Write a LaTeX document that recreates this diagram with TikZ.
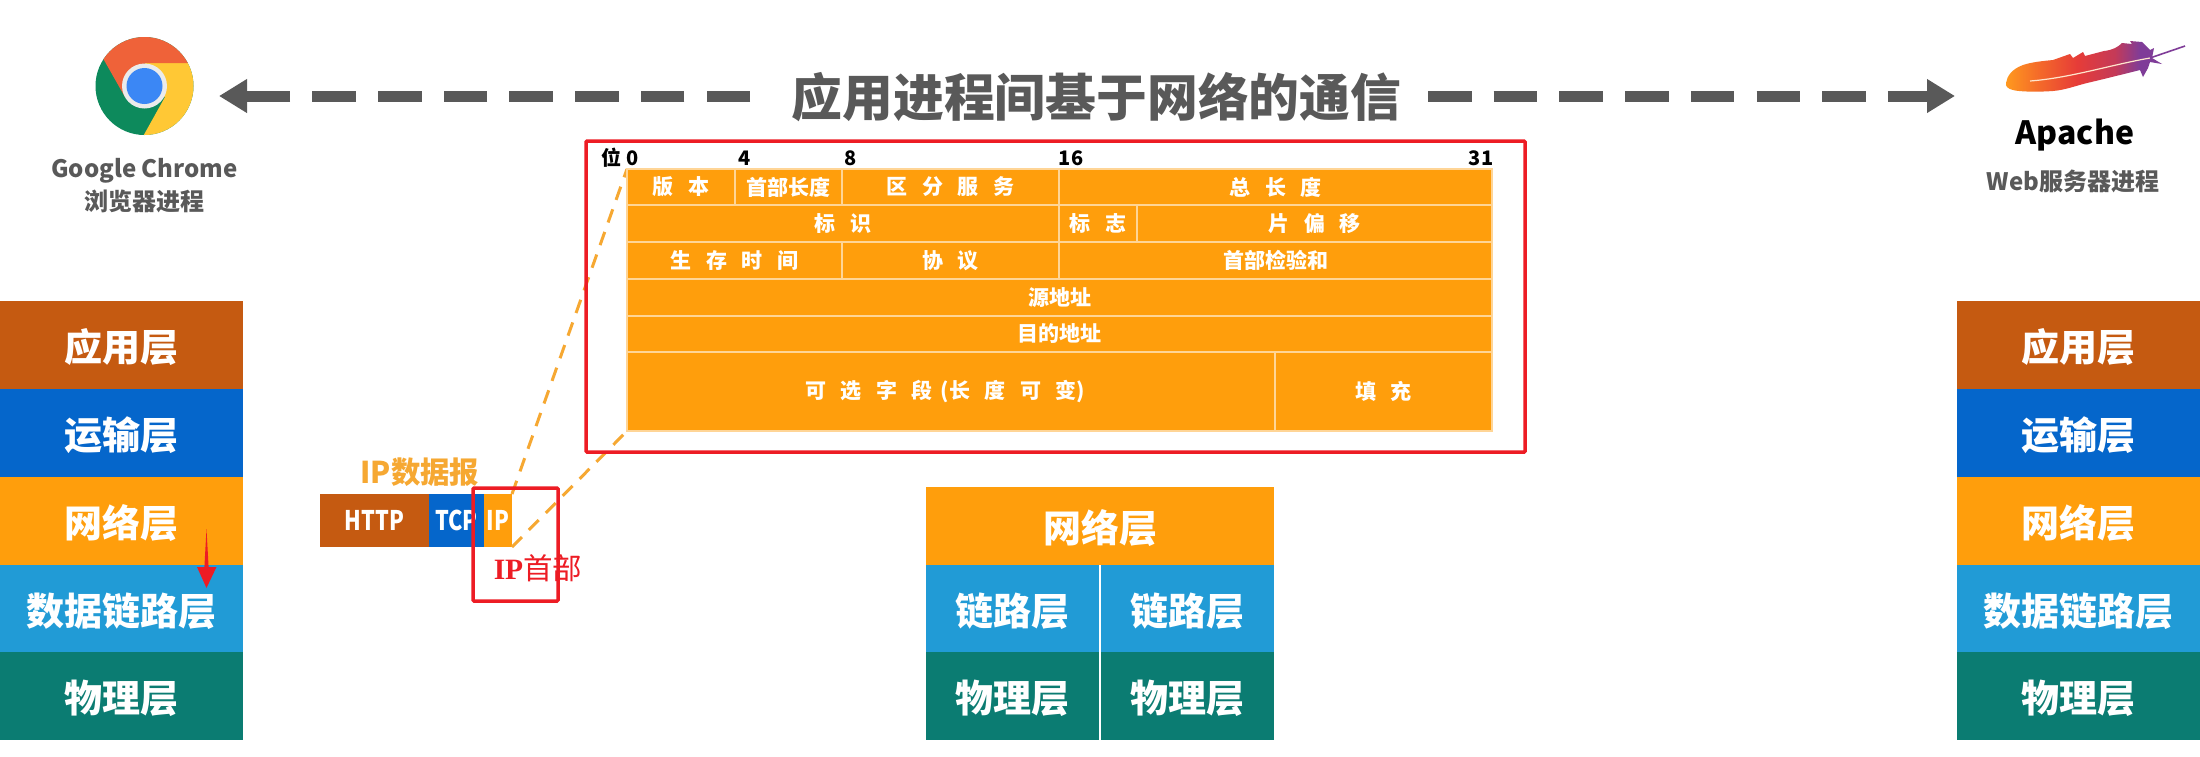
\documentclass[tikz,border=0pt]{standalone}
\usepackage{fontspec}
\usepackage{graphicx}
\usetikzlibrary{arrows.meta}
\setmainfont{Noto Sans CJK SC}
\newfontfamily\serifl{Liberation Serif}
\definecolor{cApp}{HTML}{C55A11}
\definecolor{cTrans}{HTML}{0566CB}
\definecolor{cNet}{HTML}{FF9E0C}
\definecolor{cLink}{HTML}{219BD6}
\definecolor{cPhy}{HTML}{0B7C72}
\definecolor{cGray}{HTML}{595959}
\definecolor{cRed}{HTML}{ED1C24}
\definecolor{cCream}{HTML}{FFD596}
\definecolor{cDash}{HTML}{F6A832}
\definecolor{fA}{HTML}{FF9A1E}
\definecolor{fB}{HTML}{F4692A}
\definecolor{fC}{HTML}{E63C38}
\definecolor{fD}{HTML}{C43A58}
\definecolor{fE}{HTML}{7F3C98}
\pgfdeclarehorizontalshading{feathershade}{100bp}{
  color(0bp)=(fA);
  color(25bp)=(fA);
  color(36bp)=(fB);
  color(48bp)=(fC);
  color(60bp)=(fD);
  color(68bp)=(fE);
  color(100bp)=(fE)}
\newcommand{\fsz}[1]{\fontsize{#1}{#1}\selectfont}
\newcommand{\gp}{\hspace{14.5pt}}
\tikzset{
  x=1pt,y=-1pt,
  layer/.style={inner sep=0pt,outer sep=0pt,text=white,font=\fsz{27}\bfseries,align=center},
  stack/.style={layer,font=\fsz{38}\bfseries,text height=37pt,text depth=4pt},
  cell/.style={inner sep=0pt,outer sep=0pt,fill=cNet,draw=cCream,line width=1.5pt,text=white,font=\fsz{21}\bfseries,align=center},
  bit/.style={inner sep=0pt,text=black,font=\fsz{20}\bfseries},
  redbox/.style={draw=cRed,line width=3.5pt,rounded corners=1pt},
  orangedash/.style={draw=cDash,line width=3pt,dash pattern=on 14pt off 10pt},
  bigarrow/.style={draw=cGray,line width=11pt,dash pattern=on 43.5pt off 22.2pt,-{Triangle[length=28pt,width=32pt,fill=cGray]}},
  capt/.style={inner sep=0pt,text=cGray,font=\fsz{24}\bfseries},
}
\begin{document}
\begin{tikzpicture}
\useasboundingbox (0,0) rectangle (2200,756);
\fill[white] (0,0) rectangle (2200,756);

% title and long arrows
\node[inner sep=0pt,text=cGray,font=\fsz{50.8}\bfseries] (title) at (1096.5,97) {应用进程间基于网络的通信};
\coordinate (lstart) at (750,96);
\coordinate (ltip) at (219,96);
\coordinate (rstart) at (1428,96);
\coordinate (rtip) at (1955,96);
\draw[bigarrow] (lstart) -- (ltip);
\draw[bigarrow] (rstart) -- (rtip);

% Chrome logo
\begin{scope}
\clip (144.5,86) circle (49);
\fill[fill={rgb,255:red,13;green,138;blue,92}] (90,30) rectangle (200,140);
\fill[fill={rgb,255:red,255;green,200;blue,53}] (144.5,63) -- (200,63) -- (200,140) -- (141,140) -- (165,97) -- (144.5,86) -- cycle;
\fill[fill={rgb,255:red,239;green,98;blue,57}] (125,97) -- (100,53) -- (100,20) -- (200,20) -- (200,63) -- (144.5,63) -- (144.5,86) -- cycle;
\end{scope}
\fill[white!92!black] (144.5,86) circle (22.5);
\fill[fill={rgb,255:red,59;green,135;blue,245}] (144.5,86) circle (18);
\node[capt] (chrome) at (144.5,171) {Google Chrome};
\node[capt] (chromep) at (144.5,201) {浏览器进程};

% Apache feather
\shade[shading=feathershade]
  (2006,83) .. controls (2007,76) and (2012,69) .. (2023,65)
  .. controls (2032,62) and (2043,61) .. (2053,60)
  -- (2070,54) -- (2073,58) -- (2083,52) -- (2085,56) -- (2104,51)
  .. controls (2113,50) and (2118,47) .. (2122,43)
  -- (2132,44) -- (2130,41) -- (2142,42) -- (2150,50) -- (2154,48) -- (2152,58) -- (2162,64) -- (2150,62) -- (2148,68) -- (2143,77) -- (2140,70)
  .. controls (2120,75) and (2100,80) .. (2087,83)
  .. controls (2075,86) and (2065,90) .. (2053,91)
  .. controls (2040,92) and (2020,92) .. (2013,90)
  .. controls (2008,89) and (2005,86) .. (2006,83) -- cycle;
\draw[white!80!orange,line width=1.2pt] (2030,81) .. controls (2070,78) and (2110,65) .. (2150,58);
\draw[fE,line width=1.6pt] (2150,58) -- (2185,46);
\node[inner sep=0pt,text=black,font=\fsz{32}\bfseries] (apache) at (2075,135) {Apache};
\node[capt] (apachep) at (2073,181) {Web服务器进程};

% left stack
\node[stack,fill=cApp,minimum width=243pt,minimum height=88pt] (la) at (121.5,345) {应用层};
\node[stack,fill=cTrans,minimum width=243pt,minimum height=88pt] (lt) at (121.5,433) {运输层};
\node[stack,fill=cNet,minimum width=243pt,minimum height=88pt] (ln) at (121.5,521) {网络层};
\node[stack,fill=cLink,minimum width=243pt,minimum height=87pt] (ld) at (121.5,608.5) {数据链路层};
\node[stack,fill=cPhy,minimum width=243pt,minimum height=88pt] (lp) at (121.5,696) {物理层};
\fill[cRed] (206.5,529) -- (208.6,567) -- (216.5,567) -- (206.5,588) -- (197,567) -- (204.4,567) -- cycle;

% right stack
\node[stack,fill=cApp,minimum width=243pt,minimum height=88pt] (ra) at (2078.5,345) {应用层};
\node[stack,fill=cTrans,minimum width=243pt,minimum height=88pt] (rt) at (2078.5,433) {运输层};
\node[stack,fill=cNet,minimum width=243pt,minimum height=88pt] (rn) at (2078.5,521) {网络层};
\node[stack,fill=cLink,minimum width=243pt,minimum height=87pt] (rd) at (2078.5,608.5) {数据链路层};
\node[stack,fill=cPhy,minimum width=243pt,minimum height=88pt] (rp) at (2078.5,696) {物理层};

% middle stack
\node[stack,fill=cNet,minimum width=348pt,minimum height=78pt] (mn) at (1100,526) {网络层};
\node[stack,fill=cLink,minimum width=173pt,minimum height=87pt] (md1) at (1012.5,608.5) {链路层};
\node[stack,fill=cLink,minimum width=173pt,minimum height=87pt] (md2) at (1187.5,608.5) {链路层};
\node[stack,fill=cPhy,minimum width=173pt,minimum height=88pt] (mp1) at (1012.5,696) {物理层};
\node[stack,fill=cPhy,minimum width=173pt,minimum height=88pt] (mp2) at (1187.5,696) {物理层};

% datagram
\node[inner sep=0pt,text=cDash,font=\fsz{30}\bfseries] (dglabel) at (420,472) {\scalebox{.98}[1]{IP数据报}};
\node[layer,fill=cApp,minimum width=109pt,minimum height=53pt] (dh) at (374.5,520.5) {\scalebox{.8}[1]{HTTP}};
\node[layer,fill=cTrans,minimum width=55pt,minimum height=53pt] (dt) at (456.5,520.5) {\scalebox{.8}[1]{TCP}};
\node[layer,fill=cNet,minimum width=28pt,minimum height=53pt] (di) at (498,520.5) {\scalebox{.8}[1]{IP}};
\coordinate (zt) at (627,169);
\coordinate (zb) at (627,431);
\draw[orangedash] (di.north east) -- (zt);
\draw[orangedash] (di.south east) -- (zb);

% IP header table
\node[bit] (bw) at (611,158) {位};
\node[bit] (b0) at (633,158) {0};
\node[bit] (b4) at (745,158) {4};
\node[bit] (b8) at (851,158) {8};
\node[bit] (b16) at (1071,158) {16};
\node[bit] (b31) at (1481,158) {31};

\node[cell,minimum width=108pt,minimum height=36pt] (c1) at (681,187) {版\gp 本};
\node[cell,minimum width=107pt,minimum height=36pt] (c2) at (788.5,187) {首部长度};
\node[cell,minimum width=217pt,minimum height=36pt] (c3) at (950.5,187) {区\gp 分\gp 服\gp 务};
\node[cell,minimum width=433pt,minimum height=36pt] (c4) at (1275.5,187) {总\gp 长\gp 度};
\node[cell,minimum width=432pt,minimum height=37pt] (c5) at (843,223.5) {标\gp 识};
\node[cell,minimum width=78pt,minimum height=37pt] (c6) at (1098,223.5) {标\gp 志};
\node[cell,minimum width=355pt,minimum height=37pt] (c7) at (1314.5,223.5) {片\gp 偏\gp 移};
\node[cell,minimum width=215pt,minimum height=37pt] (c8) at (734.5,260.5) {生\gp 存\gp 时\gp 间};
\node[cell,minimum width=217pt,minimum height=37pt] (c9) at (950.5,260.5) {协\gp 议};
\node[cell,minimum width=433pt,minimum height=37pt] (c10) at (1275.5,260.5) {首部检验和};
\node[cell,minimum width=865pt,minimum height=37pt] (c11) at (1059.5,297.5) {源地址};
\node[cell,minimum width=865pt,minimum height=36pt] (c12) at (1059.5,334) {目的地址};
\node[cell,minimum width=648pt,minimum height=79pt] (c13) at (951,391.5) {可\gp 选\gp 字\gp 段\hspace{8pt}(长\gp 度\gp 可\gp 变)\hspace{12pt}};
\node[cell,minimum width=217pt,minimum height=79pt] (c14) at (1383.5,391.5) {填\gp 充};

% red frames
\draw[redbox] (586,141) rectangle (1525,452);
\draw[redbox] (473,488) rectangle (558,601);
\node[inner sep=0pt,text=cRed,font=\fsz{29.5}] (iph) at (538,568) {{\serifl\bfseries IP}首部};
\end{tikzpicture}
\end{document}
